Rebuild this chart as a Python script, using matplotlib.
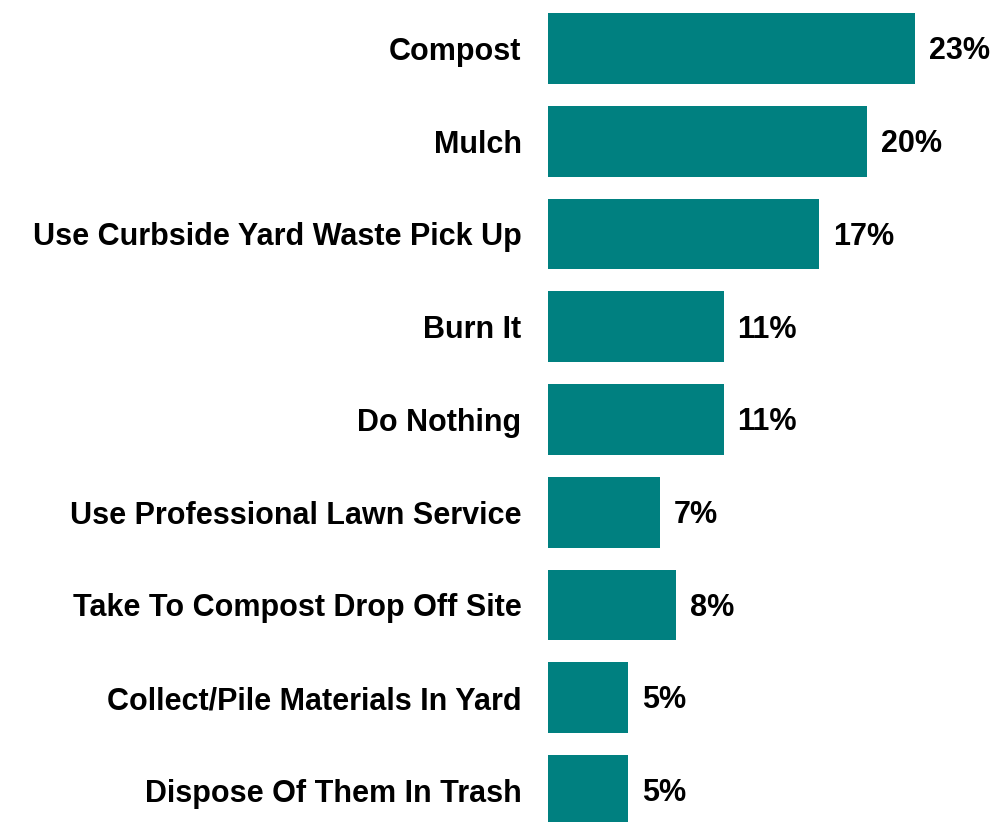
import numpy as np
import matplotlib.pyplot as plt

plt.rcParams['font.family'] = ['Liberation Sans', 'DejaVu Sans']

# 응답 항목과 비율(%)
categories = ['Compost', 'Mulch', 'Use Curbside Yard Waste Pick Up', 'Burn It',
              'Do Nothing', 'Use Professional Lawn Service',
              'Take To Compost Drop Off Site', 'Collect/Pile Materials In Yard',
              'Dispose Of Them In Trash']
values = [23, 20, 17, 11, 11, 7, 8, 5, 5]

fig = plt.figure(figsize=(9.96, 8.22), dpi=100)
ax = fig.add_axes([548 / 996, 0, 1 - 548 / 996, 1])

y = np.arange(len(categories))
ax.barh(y, values, height=0.765, color='#008080')

# 막대 끝 값 표시
for yi, v in zip(y, values):
    ax.annotate(f'{v}%', (v, yi), xytext=(10, -2), textcoords='offset points',
                va='center', ha='left', fontsize=22, fontweight='bold')

ax.set_xlim(0, (996 - 548) / (367 / 23))
ax.set_ylim(8.34, -0.523)
ax.set_yticks(y)
ax.set_yticklabels(categories, fontsize=22, fontweight='bold')
ax.tick_params(axis='y', length=0, pad=19)
ax.set_xticks([])
for s in ax.spines.values():
    s.set_visible(False)

plt.savefig('out.png', dpi=100)
